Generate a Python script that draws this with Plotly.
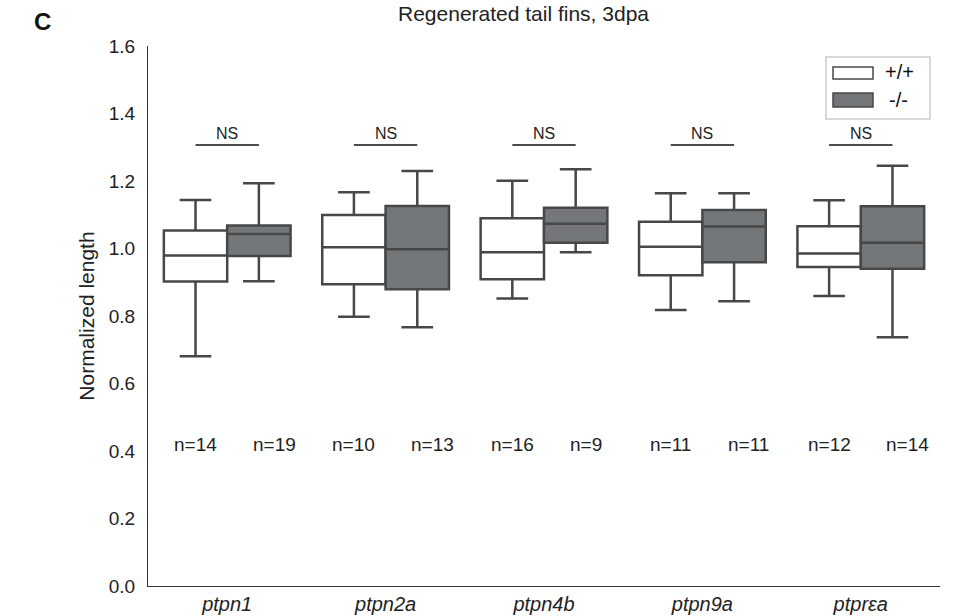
import plotly.graph_objects as go

genes = ["ptpn1", "ptpn2a", "ptpn4b", "ptpn9a", "ptprεa"]

# wild type (+/+)
wt_low = [0.681, 0.798, 0.852, 0.818, 0.859]
wt_q1 = [0.902, 0.894, 0.909, 0.921, 0.945]
wt_med = [0.979, 1.004, 0.989, 1.005, 0.985]
wt_q3 = [1.053, 1.099, 1.090, 1.079, 1.066]
wt_high = [1.144, 1.167, 1.201, 1.164, 1.143]
wt_n = [14, 10, 16, 11, 12]

# mutant (-/-)
mu_low = [0.903, 0.767, 0.989, 0.844, 0.737]
mu_q1 = [0.978, 0.879, 1.017, 0.959, 0.940]
mu_med = [1.043, 0.998, 1.073, 1.065, 1.017]
mu_q3 = [1.068, 1.126, 1.121, 1.114, 1.125]
mu_high = [1.193, 1.230, 1.235, 1.164, 1.245]
mu_n = [19, 13, 9, 11, 14]

sig_labels = ["NS", "NS", "NS", "NS", "NS"]
sig_y = 1.307
n_y = 0.42
legend_labels = ["+/+", "-/-"]

LINE = "#474747"
FILL_MU = "#74777a"
TXT = "#222222"
FONT = "Liberation Sans, Arial, sans-serif"

# plot area in pixels (for placing text outside the axes)
L, R, T, B = 148, 940, 46, 586
W_PX, H_PX = R - L, B - T


def px(x):
    return (x - L) / W_PX


def py(y):
    return (B - y) / H_PX


fig = go.Figure()
fig.add_trace(go.Box(
    x=genes, q1=wt_q1, median=wt_med, q3=wt_q3,
    lowerfence=wt_low, upperfence=wt_high,
    name=legend_labels[0], fillcolor="white",
    line=dict(color=LINE, width=2.5), whiskerwidth=0.5,
    boxpoints=False,
))
fig.add_trace(go.Box(
    x=genes, q1=mu_q1, median=mu_med, q3=mu_q3,
    lowerfence=mu_low, upperfence=mu_high,
    name=legend_labels[1], fillcolor=FILL_MU,
    line=dict(color=LINE, width=2.5), whiskerwidth=0.5,
    boxpoints=False,
))

off = 0.2
for i, g in enumerate(genes):
    fig.add_shape(type="line", xref="x", yref="y",
                  x0=i - off, x1=i + off, y0=sig_y, y1=sig_y,
                  line=dict(color="#111111", width=1.5))
    fig.add_annotation(x=i, y=sig_y, xref="x", yref="y", text=sig_labels[i],
                       showarrow=False, yanchor="bottom", yshift=1,
                       font=dict(family=FONT, size=16, color=TXT))
    fig.add_annotation(x=i - off, y=n_y, xref="x", yref="y",
                       text=f"n={wt_n[i]}", showarrow=False,
                       xanchor="center", yanchor="middle",
                       font=dict(family=FONT, size=19, color=TXT))
    fig.add_annotation(x=i + off, y=n_y, xref="x", yref="y",
                       text=f"n={mu_n[i]}", showarrow=False,
                       xanchor="left", yanchor="middle", xshift=-8,
                       font=dict(family=FONT, size=19, color=TXT))

# title and panel letter
fig.add_annotation(x=px(523), y=py(13), xref="paper", yref="paper",
                   xanchor="center", yanchor="middle",
                   text="Regenerated tail fins, 3dpa", showarrow=False,
                   font=dict(family=FONT, size=21, color=TXT))
fig.add_annotation(x=px(42), y=py(22), xref="paper", yref="paper",
                   xanchor="center", yanchor="middle",
                   text="<b>C</b>", showarrow=False,
                   font=dict(family=FONT, size=24, color="#111111"))

# legend drawn manually (wide rectangular swatches)
fig.add_shape(type="rect", xref="paper", yref="paper",
              x0=px(826), x1=px(930), y0=py(119), y1=py(57),
              line=dict(color="#cccccc", width=1.5), fillcolor="white")
fig.add_shape(type="rect", xref="paper", yref="paper",
              x0=px(833), x1=px(873), y0=py(79), y1=py(67),
              line=dict(color=LINE, width=1.5), fillcolor="white")
fig.add_shape(type="rect", xref="paper", yref="paper",
              x0=px(833), x1=px(873), y0=py(107), y1=py(93),
              line=dict(color=LINE, width=1.5), fillcolor=FILL_MU)
fig.add_annotation(x=px(883), y=py(72), xref="paper", yref="paper",
                   xanchor="left", yanchor="middle", text=legend_labels[0],
                   showarrow=False, font=dict(family=FONT, size=20, color="#111111"))
fig.add_annotation(x=px(887), y=py(100), xref="paper", yref="paper",
                   xanchor="left", yanchor="middle", text=legend_labels[1],
                   showarrow=False, font=dict(family=FONT, size=20, color="#111111"))

fig.update_layout(
    width=957, height=616,
    margin=dict(l=L, r=957 - R, t=T, b=616 - B),
    plot_bgcolor="white", paper_bgcolor="white",
    boxmode="group", boxgap=0.2, boxgroupgap=0.0,
    font=dict(family=FONT, size=16, color=TXT),
    showlegend=False,
)
fig.update_xaxes(
    range=[-0.5, 4.5], showline=True, linecolor="#333333", linewidth=1.2,
    showgrid=False, zeroline=False, ticks="", automargin=False,
    tickfont=dict(family=FONT, size=20, color=TXT),
    tickvals=genes, ticktext=[f"<i>{g}</i>" for g in genes],
)
fig.update_yaxes(
    range=[0, 1.6], tickvals=[0, 0.2, 0.4, 0.6, 0.8, 1.0, 1.2, 1.4, 1.6],
    tickformat=".1f", showline=True, linecolor="#333333", linewidth=1.2,
    showgrid=False, zeroline=False, automargin=False,
    ticks="outside", ticklen=8, tickcolor="rgba(0,0,0,0)",
    tickfont=dict(family=FONT, size=19, color=TXT),
    title=dict(text="Normalized length", standoff=8,
               font=dict(family=FONT, size=21, color=TXT)),
)

fig.write_html("out.html")
